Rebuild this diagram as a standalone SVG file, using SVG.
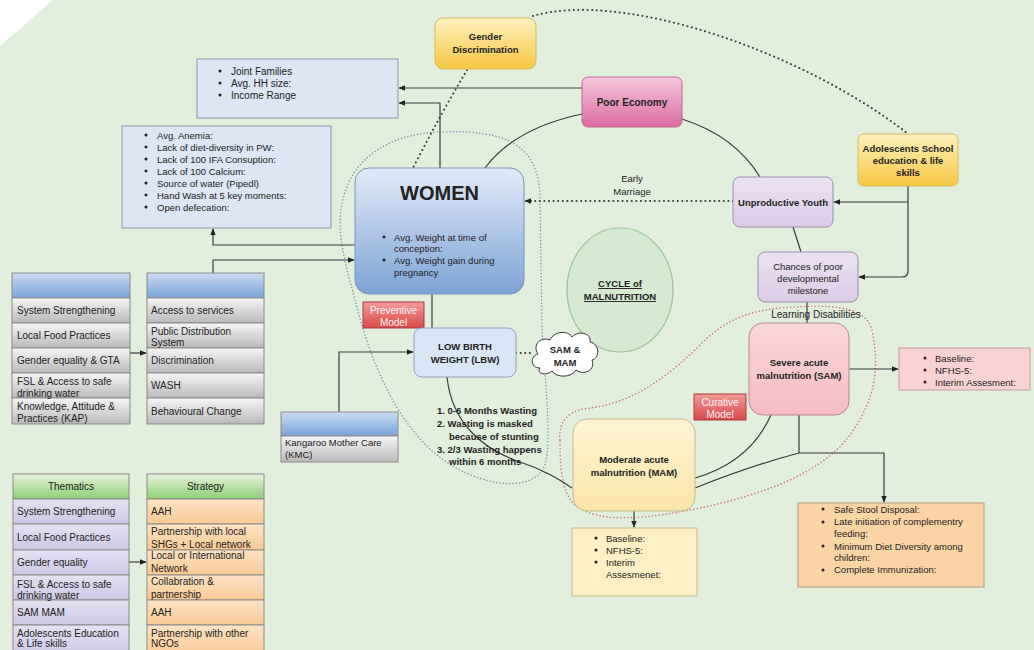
<svg xmlns="http://www.w3.org/2000/svg" width="1034" height="650" viewBox="0 0 1034 650">
<defs>
<style>
.t{font-family:"Liberation Sans",Arial,sans-serif;fill:#222}
.s10{font-size:10px}
.s95{font-size:9.5px}
.b{font-weight:bold}
.m{text-anchor:middle}
.box{stroke:#8c97a8;stroke-width:1}
.row{stroke:#8a8a8a;stroke-width:1}
.conn{fill:none;stroke:#3a3a3a;stroke-width:1.2}
.dot{fill:none;stroke:#3a3a3a;stroke-width:2;stroke-dasharray:0.1 4.5;stroke-linecap:round}
.blobb{fill:none;stroke:#8296aa;stroke-width:1.5;stroke-dasharray:0.1 3.2;stroke-linecap:round}
.blobr{fill:none;stroke:#d07c84;stroke-width:1.6;stroke-dasharray:0.1 3.4;stroke-linecap:round}
</style>
<marker id="ah" viewBox="0 0 10 10" refX="9" refY="5" markerWidth="7" markerHeight="7" markerUnits="userSpaceOnUse" orient="auto"><path d="M0,1 L10,5 L0,9 z" fill="#222"/></marker>
<linearGradient id="gY" x1="0" y1="0" x2="0" y2="1"><stop offset="0" stop-color="#fff2c0"/><stop offset="1" stop-color="#f6c640"/></linearGradient>
<linearGradient id="gP" x1="0" y1="0" x2="0" y2="1"><stop offset="0" stop-color="#f6c8dd"/><stop offset="1" stop-color="#da6aa2"/></linearGradient>
<linearGradient id="gW" x1="0" y1="0" x2="0" y2="1"><stop offset="0" stop-color="#e2ecf8"/><stop offset="1" stop-color="#7ea2d5"/></linearGradient>
<linearGradient id="gL" x1="0" y1="0" x2="0" y2="1"><stop offset="0" stop-color="#ece2f3"/><stop offset="1" stop-color="#dccbe7"/></linearGradient>
<linearGradient id="gS" x1="0" y1="0" x2="0" y2="1"><stop offset="0" stop-color="#fbd7da"/><stop offset="1" stop-color="#f5bcc2"/></linearGradient>
<linearGradient id="gM" x1="0" y1="0" x2="0" y2="1"><stop offset="0" stop-color="#fff4d4"/><stop offset="1" stop-color="#fbe5a8"/></linearGradient>
<linearGradient id="gR" x1="0" y1="0" x2="0" y2="1"><stop offset="0" stop-color="#f39a9a"/><stop offset="1" stop-color="#d84a4a"/></linearGradient>
<linearGradient id="gH" x1="0" y1="0" x2="0" y2="1"><stop offset="0" stop-color="#cadcf2"/><stop offset="1" stop-color="#7aa3da"/></linearGradient>
<linearGradient id="gG" x1="0" y1="0" x2="0" y2="1"><stop offset="0" stop-color="#f6f6f6"/><stop offset="1" stop-color="#b9b9b9"/></linearGradient>
<linearGradient id="gGr" x1="0" y1="0" x2="0" y2="1"><stop offset="0" stop-color="#e6f4dc"/><stop offset="1" stop-color="#8fcf74"/></linearGradient>
<linearGradient id="gLv" x1="0" y1="0" x2="0" y2="1"><stop offset="0" stop-color="#e4e2f3"/><stop offset="1" stop-color="#cdc8e7"/></linearGradient>
<linearGradient id="gPe" x1="0" y1="0" x2="0" y2="1"><stop offset="0" stop-color="#fde3c6"/><stop offset="1" stop-color="#f9c993"/></linearGradient>
</defs>
<rect width="1034" height="650" fill="#e3efdd"/>
<polygon points="0,0 53,0 0,46" fill="#ffffff"/>

<!-- dotted outlines -->
<path class="blobb" d="M440,132 C500,130 540,140 540,200 L542,330 C545,380 552,440 545,465 C535,490 495,488 460,470 C400,440 370,360 355,300 C345,260 330,220 350,180 C365,150 400,133 440,132 Z"/>
<path class="blobr" d="M560,440 C558,420 570,410 590,408 C630,403 665,380 700,345 C720,325 740,312 780,308 C830,304 865,305 872,330 C880,370 875,400 850,435 C820,475 760,495 700,508 C650,518 600,525 575,505 C562,493 560,470 560,440 Z"/>

<g id="connectors">
<path class="conn" d="M582,88 H399" marker-end="url(#ah)"/>
<path class="conn" d="M440,168 V103 H399" marker-end="url(#ah)"/>
<path class="conn" d="M355,245 H213 V229" marker-end="url(#ah)"/>
<path class="conn" d="M213,273 V260 H354" marker-end="url(#ah)"/>
<path class="conn" d="M130,353 H146" marker-end="url(#ah)"/>
<path class="conn" d="M339,412 V352 H413" marker-end="url(#ah)"/>
<path class="conn" d="M908,186 V271 Q908,277 902,277 H859" marker-end="url(#ah)"/>
<path class="conn" d="M908,202 H834" marker-end="url(#ah)"/>
<path class="dot" d="M733,201 H526"/>
<path class="conn" d="M532,201 H525" marker-end="url(#ah)"/>
<path class="dot" d="M467,70 Q440,115 413,168"/>
<path class="dot" d="M533,16 C620,-10 800,50 907,133"/>
<path class="conn" d="M485,168 Q515,128 582,114"/>
<path class="conn" d="M682,119 Q735,136 760,177"/>
<path class="conn" d="M793,227 L801,252"/>
<path class="conn" d="M807,302 V323"/>
<path class="conn" d="M432,294 V328"/>
<path class="conn" d="M447,377 C452,425 485,450 520,462 C545,470 560,480 572,488"/>
<path class="conn" d="M771,415 Q750,462 695,478"/>
<path class="conn" d="M695,488 Q750,466 799,453"/>
<path class="conn" d="M799,415 V453 H884 V502" marker-end="url(#ah)"/>
<path class="conn" d="M849,369 H898" marker-end="url(#ah)"/>
<path class="conn" d="M634,511 V527" marker-end="url(#ah)"/>
<path class="dot" d="M516,353 H532"/>
<path class="conn" d="M129,562 H146" marker-end="url(#ah)"/>
</g>

<g id="n-joint">
<rect class="box" x="197" y="59" width="201" height="59" fill="#dce6f4"/>
<g class="t s10"><circle cx="220" cy="71" r="1.5" fill="#222"/><text x="231" y="74.5">Joint Families</text>
<circle cx="220" cy="83" r="1.5" fill="#222"/><text x="231" y="86.5">Avg. HH size:</text>
<circle cx="220" cy="95" r="1.5" fill="#222"/><text x="231" y="98.5">Income Range</text></g>
</g>

<g id="n-anemia">
<rect class="box" x="122" y="126" width="209" height="102" fill="#dce6f4"/>
<g class="t s95">
<circle cx="146" cy="135" r="1.5" fill="#222"/><text x="157" y="138.5">Avg. Anemia:</text>
<circle cx="146" cy="147" r="1.5" fill="#222"/><text x="157" y="150.5">Lack of diet-diversity in PW:</text>
<circle cx="146" cy="159" r="1.5" fill="#222"/><text x="157" y="162.5">Lack of 100 IFA Consuption:</text>
<circle cx="146" cy="171" r="1.5" fill="#222"/><text x="157" y="174.5">Lack of 100 Calcium:</text>
<circle cx="146" cy="183" r="1.5" fill="#222"/><text x="157" y="186.5">Source of water (Pipedl)</text>
<circle cx="146" cy="195" r="1.5" fill="#222"/><text x="157" y="198.5">Hand Wash at 5 key moments:</text>
<circle cx="146" cy="207" r="1.5" fill="#222"/><text x="157" y="210.5">Open defecation:</text>
</g>
</g>

<g id="n-gender">
<rect x="435" y="18" width="101" height="51" rx="8" fill="url(#gY)" stroke="#d9b860"/>
<text class="t s95 b m" x="485.5" y="40">Gender</text>
<text class="t s95 b m" x="485.5" y="53">Discrimination</text>
</g>

<g id="n-economy">
<rect x="582" y="77" width="100" height="50" rx="6" fill="url(#gP)" stroke="#b86a90"/>
<text class="t s10 b m" x="632" y="105.5">Poor Economy</text>
</g>

<g id="n-adolescents">
<rect x="858" y="134" width="100" height="52" rx="6" fill="url(#gY)" stroke="#d9b860"/>
<text class="t s95 b m" x="908" y="151.5">Adolescents School</text>
<text class="t s95 b m" x="908" y="163.5">education &amp; life</text>
<text class="t s95 b m" x="908" y="175.5">skills</text>
</g>

<g id="n-youth">
<rect x="733" y="177" width="100" height="50" rx="7" fill="url(#gL)" stroke="#9a8fae"/>
<text class="t s95 m" x="783" y="205.5" style="font-weight:bold">Unproductive Youth</text>
</g>

<g id="n-early">
<text class="t s95 m" x="632" y="182">Early</text>
<text class="t s95 m" x="632" y="195">Marriage</text>
</g>

<g id="n-women">
<rect x="355" y="168" width="169" height="126" rx="14" fill="url(#gW)" stroke="#7d95b8"/>
<text class="t b m" x="439.5" y="200" font-size="20">WOMEN</text>
<g class="t s95">
<circle cx="384" cy="237" r="1.5" fill="#222"/><text x="394" y="240.5">Avg. Weight at time of</text>
<text x="394" y="251.5">conception:</text>
<circle cx="384" cy="260" r="1.5" fill="#222"/><text x="394" y="263.5">Avg. Weight gain during</text>
<text x="394" y="275.5">pregnancy</text>
</g>
</g>

<g id="n-cycle">
<ellipse cx="620" cy="290" rx="53" ry="62" fill="#d6e9d1" stroke="#9cc596" stroke-width="1.2"/>
<text class="t s95 b m" x="620" y="287" text-decoration="underline">CYCLE of</text>
<text class="t s95 b m" x="620" y="300" text-decoration="underline">MALNUTRITION</text>
</g>

<g id="n-chances">
<rect x="758" y="252" width="100" height="50" rx="7" fill="url(#gL)" stroke="#9a8fae"/>
<text class="t s95 m" x="808" y="269.5">Chances of poor</text>
<text class="t s95 m" x="808" y="281.5">developmental</text>
<text class="t s95 m" x="808" y="293.5">milestone</text>
</g>

<text class="t s10 m" x="816" y="317.5">Learning Disabilities</text>

<g id="n-sam">
<rect x="749" y="323" width="100" height="92" rx="14" fill="url(#gS)" stroke="#b58a8e"/>
<text class="t s95 b m" x="799" y="366">Severe acute</text>
<text class="t s95 b m" x="799" y="379">malnutrition (SAM)</text>
</g>

<g id="n-sam-info">
<rect x="899" y="348" width="131" height="42" fill="#f9d2d4" stroke="#c89a9c"/>
<g class="t s95">
<circle cx="925" cy="358" r="1.5" fill="#222"/><text x="935" y="361.5">Baseline:</text>
<circle cx="925" cy="370" r="1.5" fill="#222"/><text x="935" y="373.5">NFHS-5:</text>
<circle cx="925" cy="382" r="1.5" fill="#222"/><text x="935" y="385.5">Interim Assesment:</text>
</g>
</g>

<g id="n-curative">
<rect x="694" y="394" width="52" height="26" fill="url(#gR)" stroke="#a83a3a"/>
<text class="t s10 m" x="720" y="405.5" style="fill:#fff2f2">Curative</text>
<text class="t s10 m" x="720" y="417.5" style="fill:#fff2f2">Model</text>
</g>

<g id="n-preventive">
<rect x="363" y="302" width="61" height="26" fill="url(#gR)" stroke="#a83a3a"/>
<text class="t s10 m" x="393.5" y="313.5" style="fill:#fff2f2">Preventive</text>
<text class="t s10 m" x="393.5" y="325.5" style="fill:#fff2f2">Model</text>
</g>

<g id="n-lbw">
<rect x="414" y="328" width="102" height="49" rx="8" fill="#d9e6f6" stroke="#8ea2bf"/>
<text class="t s95 b m" x="465" y="349.5">LOW BIRTH</text>
<text class="t s95 b m" x="465" y="362.5">WEIGHT (LBW)</text>
</g>

<g id="n-cloud">
<path d="M540,368 C530,368 530,356 538,354 C532,346 540,336 550,340 C554,331 568,330 572,337 C578,330 592,333 590,342 C600,344 600,358 592,360 C596,370 584,376 576,370 C572,378 556,378 552,371 C546,376 536,374 540,368 Z" fill="#ffffff" stroke="#333" stroke-width="1"/>
<text class="t s95 b m" x="565" y="353">SAM &amp;</text>
<text class="t s95 b m" x="565" y="366">MAM</text>
</g>

<g id="n-wasting" class="t s95 b">
<text x="437" y="413.5">1. 0-6 Months Wasting</text>
<text x="437" y="426.5">2. Wasting is masked</text>
<text x="449" y="439.5">because of stunting</text>
<text x="437" y="452.5">3. 2/3 Wasting happens</text>
<text x="449" y="465">within 6 months</text>
</g>

<g id="n-kmc">
<rect class="row" x="281" y="412" width="117" height="24" fill="url(#gH)"/>
<rect class="row" x="281" y="436" width="117" height="26" fill="url(#gG)"/>
<text class="t s95" x="285" y="446">Kangaroo Mother Care</text>
<text class="t s95" x="285" y="458">(KMC)</text>
</g>

<g id="n-table1">
<rect class="row" x="12" y="273" width="118" height="25" fill="url(#gH)"/>
<rect class="row" x="12" y="298" width="118" height="25" fill="url(#gG)"/>
<rect class="row" x="12" y="323" width="118" height="25" fill="url(#gG)"/>
<rect class="row" x="12" y="348" width="118" height="25" fill="url(#gG)"/>
<rect class="row" x="12" y="373" width="118" height="25" fill="url(#gG)"/>
<rect class="row" x="12" y="398" width="118" height="26" fill="url(#gG)"/>
<g class="t s10">
<text x="17" y="314">System Strengthening</text>
<text x="17" y="339">Local Food Practices</text>
<text x="17" y="364">Gender equality &amp; GTA</text>
<text x="17" y="385">FSL &amp;  Access to safe</text>
<text x="17" y="396.5">drinking water</text>
<text x="17" y="410">Knowledge, Attitude &amp;</text>
<text x="17" y="421.5">Practices (KAP)</text>
</g>
</g>

<g id="n-table2">
<rect class="row" x="147" y="273" width="117" height="25" fill="url(#gH)"/>
<rect class="row" x="147" y="298" width="117" height="25" fill="url(#gG)"/>
<rect class="row" x="147" y="323" width="117" height="25" fill="url(#gG)"/>
<rect class="row" x="147" y="348" width="117" height="25" fill="url(#gG)"/>
<rect class="row" x="147" y="373" width="117" height="25" fill="url(#gG)"/>
<rect class="row" x="147" y="398" width="117" height="26" fill="url(#gG)"/>
<g class="t s10">
<text x="151" y="314">Access to services</text>
<text x="151" y="334.5">Public Distribution</text>
<text x="151" y="346">System</text>
<text x="151" y="364">Discrimination</text>
<text x="151" y="389">WASH</text>
<text x="151" y="414.5">Behavioural Change</text>
</g>
</g>

<g id="n-mam">
<rect x="573" y="419" width="122" height="92" rx="14" fill="url(#gM)" stroke="#c9b98a"/>
<text class="t s95 b m" x="634" y="463">Moderate acute</text>
<text class="t s95 b m" x="634" y="476">malnutrition (MAM)</text>
</g>

<g id="n-mam-info">
<rect x="572" y="528" width="125" height="68" fill="#fdefc6" stroke="#c9b98a"/>
<g class="t s95">
<circle cx="596" cy="538" r="1.5" fill="#222"/><text x="606" y="541.5">Baseline:</text>
<circle cx="596" cy="550" r="1.5" fill="#222"/><text x="606" y="553.5">NFHS-5:</text>
<circle cx="596" cy="562" r="1.5" fill="#222"/><text x="606" y="565.5">Interim</text>
<text x="606" y="577.5">Assesmenet:</text>
</g>
</g>

<g id="n-stool">
<rect x="798" y="503" width="186" height="84" fill="#fbd4a6" stroke="#b8987a"/>
<g class="t s95">
<circle cx="823" cy="509" r="1.5" fill="#222"/><text x="834" y="512.5">Safe Stool Disposal:</text>
<circle cx="823" cy="522" r="1.5" fill="#222"/><text x="834" y="525">Late initiation of complementry</text>
<text x="834" y="537">feeding:</text>
<circle cx="823" cy="546" r="1.5" fill="#222"/><text x="834" y="549.5">Minimum Diet Diversity among</text>
<text x="834" y="561">children:</text>
<circle cx="823" cy="570" r="1.5" fill="#222"/><text x="834" y="573">Complete Immunization:</text>
</g>
</g>

<g id="n-thematics">
<rect class="row" x="13" y="474" width="116" height="25" fill="url(#gGr)"/>
<rect class="row" x="13" y="499" width="116" height="25" fill="url(#gLv)"/>
<rect class="row" x="13" y="524" width="116" height="26" fill="url(#gLv)"/>
<rect class="row" x="13" y="550" width="116" height="25" fill="url(#gLv)"/>
<rect class="row" x="13" y="575" width="116" height="25" fill="url(#gLv)"/>
<rect class="row" x="13" y="600" width="116" height="25" fill="url(#gLv)"/>
<rect class="row" x="13" y="625" width="116" height="30" fill="url(#gLv)"/>
<g class="t s10">
<text class="m" x="71" y="490">Thematics</text>
<text x="17" y="515">System Strengthening</text>
<text x="17" y="541">Local Food Practices</text>
<text x="17" y="566">Gender equality</text>
<text x="17" y="587.5">FSL &amp;  Access to safe</text>
<text x="17" y="598.5">drinking water</text>
<text x="17" y="616">SAM MAM</text>
<text x="17" y="636.5">Adolescents Education</text>
<text x="17" y="646.5">&amp; Life skills</text>
</g>
</g>

<g id="n-strategy">
<rect class="row" x="147" y="474" width="117" height="25" fill="url(#gGr)"/>
<rect class="row" x="147" y="499" width="117" height="25" fill="url(#gPe)"/>
<rect class="row" x="147" y="524" width="117" height="26" fill="url(#gPe)"/>
<rect class="row" x="147" y="550" width="117" height="25" fill="url(#gPe)"/>
<rect class="row" x="147" y="575" width="117" height="25" fill="url(#gPe)"/>
<rect class="row" x="147" y="600" width="117" height="25" fill="url(#gPe)"/>
<rect class="row" x="147" y="625" width="117" height="30" fill="url(#gPe)"/>
<g class="t s10">
<text class="m" x="205.5" y="490">Strategy</text>
<text x="151" y="515">AAH</text>
<text x="151" y="535">Partnership with local</text>
<text x="151" y="547.5">SHGs + Local network</text>
<text x="151" y="559">Local or International</text>
<text x="151" y="572">Network</text>
<text x="151" y="585">Collabration &amp;</text>
<text x="151" y="597.5">partnership</text>
<text x="151" y="616">AAH</text>
<text x="151" y="636.5">Partnership with other</text>
<text x="151" y="646.5">NGOs</text>
</g>
</g>
</svg>
